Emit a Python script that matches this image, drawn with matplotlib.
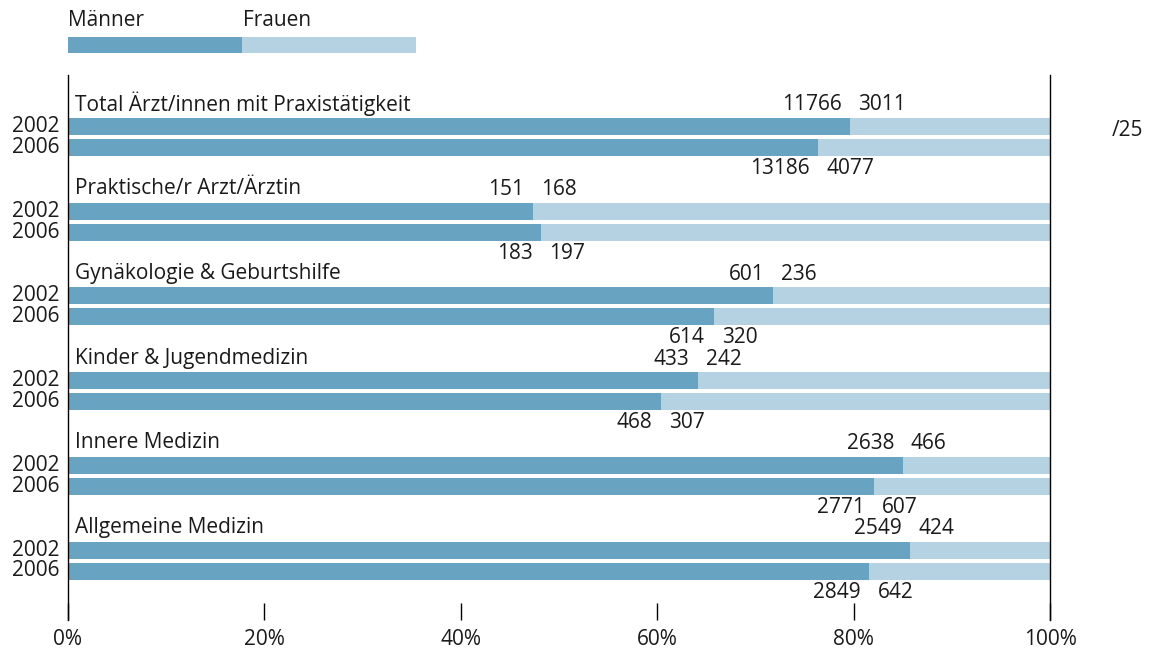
import matplotlib.pyplot as plt
import numpy as np

plt.rcParams['font.family'] = ['Open Sans', 'DejaVu Sans']

# ==================== Daten ====================
categories = ['Total Ärzt/innen mit Praxistätigkeit', 'Praktische/r Arzt/Ärztin',
              'Gynäkologie & Geburtshilfe', 'Kinder & Jugendmedizin',
              'Innere Medizin', 'Allgemeine Medizin']
years = ['2002', '2006']
maenner_2002 = [11766, 151, 601, 433, 2638, 2549]
frauen_2002 = [3011, 168, 236, 242, 466, 424]
maenner_2006 = [13186, 183, 614, 468, 2771, 2849]
frauen_2006 = [4077, 197, 320, 307, 607, 642]
xticks = [0, 0.2, 0.4, 0.6, 0.8, 1.0]
xticklabels = ['0%', '20%', '40%', '60%', '80%', '100%']

col_m = '#68a3c2'
col_f = '#b4d2e2'
fs = 15
tcol = '#1a1a1a'

W, H = 1159, 650
fig = plt.figure(figsize=(W / 100, H / 100), dpi=100)

# Hauptachse: x von Pixel 68 bis 1050, y von 75 bis 620
ax = fig.add_axes([68 / W, 1 - 620 / H, (1050 - 68) / W, (620 - 75) / H])
ax.set_xlim(0, 1)
ax.set_ylim(620, 75)

step = 84.7
bar_h = 17
for i, cat in enumerate(categories):
    y02 = 126.5 + step * i
    y06 = 147.5 + step * i
    for y, m, f, above in [(y02, maenner_2002[i], frauen_2002[i], True),
                           (y06, maenner_2006[i], frauen_2006[i], False)]:
        share = m / (m + f)
        ax.barh(y, share, height=bar_h, color=col_m, linewidth=0)
        ax.barh(y, 1 - share, left=share, height=bar_h, color=col_f, linewidth=0)
        ty = y - 21.5 if above else y + 21
        ax.annotate(str(m), (share, ty), xytext=(-6, 0), textcoords='offset points',
                    ha='right', va='center', fontsize=fs, color=tcol)
        ax.annotate(str(f), (share, ty), xytext=(6, 0), textcoords='offset points',
                    ha='left', va='center', fontsize=fs, color=tcol)
    ax.annotate(cat, (0, y02 - 22.5), xytext=(5, 0), textcoords='offset points',
                ha='left', va='center', fontsize=fs, color=tcol)
    ax.annotate(years[0], (0, y02), xytext=(-6, 0), textcoords='offset points',
                ha='right', va='center', fontsize=fs, color=tcol)
    ax.annotate(years[1], (0, y06), xytext=(-6, 0), textcoords='offset points',
                ha='right', va='center', fontsize=fs, color=tcol)

ax.spines['top'].set_visible(False)
ax.spines['bottom'].set_visible(False)
for s in ['left', 'right']:
    ax.spines[s].set_linewidth(1.0)
    ax.spines[s].set_color('black')
ax.set_yticks([])
ax.set_xticks(xticks, xticklabels, fontsize=fs, color=tcol)
ax.tick_params(axis='x', direction='in', length=12.5, width=1.0, pad=6.5, bottom=True)

# Streuer Text rechts
fig.text(1112 / W, 1 - 130 / H, '/25', fontsize=fs, ha='left', va='center', color=tcol)

# ==================== Legende ====================
lax = fig.add_axes([68 / W, 1 - 53 / H, (416 - 68) / W, 16 / H])
lax.barh(0, 0.5, height=1, color=col_m, linewidth=0)
lax.barh(0, 0.5, left=0.5, height=1, color=col_f, linewidth=0)
lax.set_xlim(0, 1)
lax.set_ylim(-0.5, 0.5)
lax.axis('off')
fig.text(68 / W, 1 - 21 / H, 'Männer', fontsize=fs, ha='left', va='center', color=tcol)
fig.text(243 / W, 1 - 21 / H, 'Frauen', fontsize=fs, ha='left', va='center', color=tcol)

plt.savefig('out.png', dpi=100, facecolor='white')
